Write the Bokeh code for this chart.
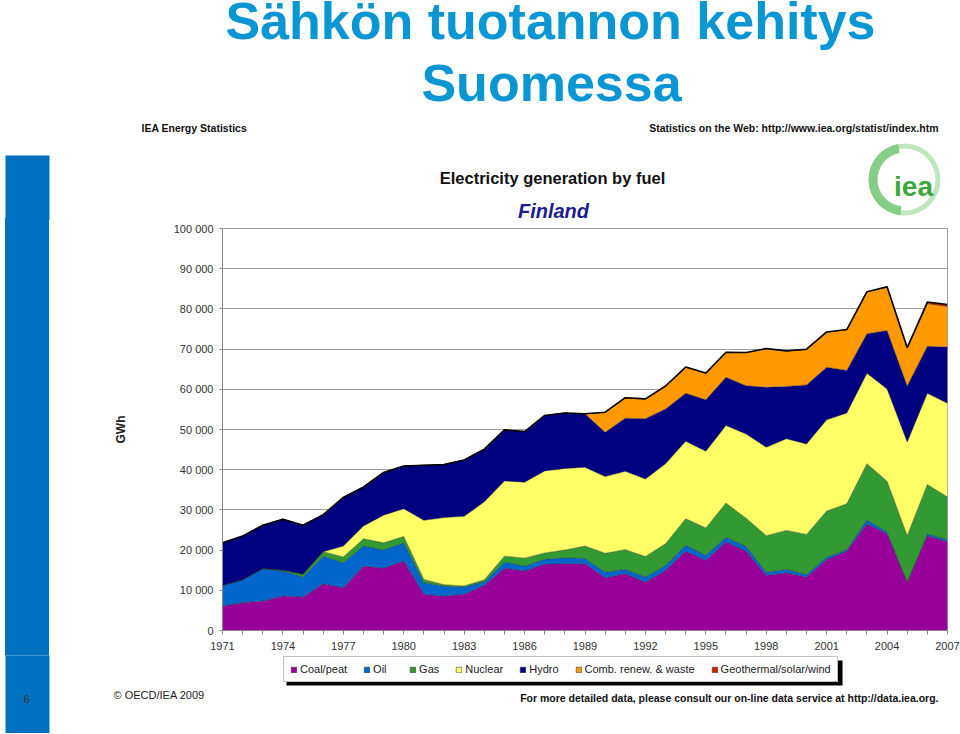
from bokeh.plotting import figure
from bokeh.layouts import column, row
from bokeh.models import (ColumnDataSource, Legend, LegendItem, Label,
                          FixedTicker, Range1d, Spacer)
from bokeh.transform import stack
from bokeh.embed import file_html
from bokeh.resources import INLINE

# ---------------- data (GWh) ----------------
years = list(range(1971, 2008))
coal_peat = [6100, 6900, 7300, 8600, 8300, 11600, 10600, 16000, 15500, 17300,
             9000, 8500, 9000, 11200, 15500, 14800, 16500, 16600, 16600, 13100,
             14100, 12000, 14900, 19700, 17400, 22000, 19700, 13700, 14300, 13300,
             17600, 19700, 26500, 24000, 11900, 23600, 22000]
oil = [5100, 5700, 8100, 6200, 5000, 6900, 6200, 5000, 4500, 4500,
       2900, 2500, 1800, 900, 1500, 1200, 1200, 1500, 1300, 1400,
       1100, 1300, 1300, 1500, 1300, 1200, 1200, 800, 900, 600,
       600, 400, 1000, 500, 100, 400, 600]
gas = [0, 0, 0, 200, 700, 1100, 1500, 1800, 1800, 1600,
       800, 400, 300, 500, 1500, 2000, 1600, 1900, 3100, 4700,
       4900, 5100, 5400, 6600, 6800, 8500, 7000, 9100, 9700, 10000,
       11500, 11400, 14000, 12600, 11600, 12300, 10600]
nuclear = [0, 0, 0, 0, 0, 0, 2700, 3200, 6900, 6900,
           14700, 16700, 17300, 19400, 18700, 18900, 20400, 20300, 19600, 19100,
           19500, 19300, 19900, 19300, 19100, 19300, 21000, 22000, 22800, 22500,
           22700, 22600, 22500, 23000, 23300, 22700, 23300]
hydro = [10600, 10900, 10800, 12700, 12200, 9200, 12100, 9700, 10600, 10600,
         13700, 13200, 14000, 13100, 12700, 12600, 13800, 13800, 13300, 11000,
         13200, 15000, 13600, 11900, 12800, 12000, 12000, 14900, 13000, 14700,
         13100, 10600, 9800, 14500, 13900, 11700, 14000]
comb_renew_waste = [0, 0, 0, 0, 0, 0, 0, 0, 0, 0,
                    0, 0, 0, 0, 0, 0, 0, 0, 0, 5000,
                    5100, 4900, 5700, 6500, 6600, 6200, 8200, 9600, 8800, 8800,
                    8700, 10100, 10400, 10800, 9400, 10600, 10100]
geo_solar_wind = [0, 0, 0, 0, 0, 0, 0, 0, 0, 0,
                  0, 0, 0, 0, 0, 0, 0, 0, 0, 0,
                  10, 10, 20, 30, 30, 30, 40, 50, 60, 80,
                  70, 60, 90, 120, 170, 400, 500]

fuel_keys = ["coal", "oil", "gas", "nuclear", "hydro", "comb", "geo"]
fuel_names = ["Coal/peat", "Oil", "Gas", "Nuclear", "Hydro",
              "Comb. renew. & waste", "Geothermal/solar/wind"]
fuel_colors = ["#990099", "#0066CC", "#339933", "#FFFF66", "#000080", "#FF9900", "#CC2200"]

y_ticks = [0, 10000, 20000, 30000, 40000, 50000, 60000, 70000, 80000, 90000, 100000]
y_tick_labels = ["0", "10 000", "20 000", "30 000", "40 000", "50 000",
                 "60 000", "70 000", "80 000", "90 000", "100 000"]
x_label_years = [1971, 1974, 1977, 1980, 1983, 1986, 1989, 1992, 1995, 1998, 2001, 2004, 2007]

# ---------------- page layout constants (pixels) ----------------
PAGE_W = 960
HEAD_H = 220          # header strip  (y 0..220)
MID_H = 435           # chart strip   (y 220..655)
FOOT_H = 78           # footer strip  (y 655..733)
FL, FR, FT, FB = 222, 947, 228, 630   # plot frame edges on the page
BAR_L, BAR_R, BAR_TOP = 5, 49, 155
BAR_COLOR = "#0070C0"
FONT = "Liberation Sans"
MID_Y0 = HEAD_H
FOOT_Y0 = HEAD_H + MID_H
LEG_L, LEG_B = 283, 682          # legend box left / bottom on the page
SHADOW = (286, 842, 660, 685)    # legend drop shadow (l, r, t, b)


def canvas_fig(x0, w, y0, h, bg="white"):
    """A figure whose frame is the whole canvas; data units = page pixels."""
    f = figure(width=w, height=h, x_range=Range1d(x0, x0 + w), y_range=Range1d(y0 + h, y0),
               x_axis_type=None, y_axis_type=None, output_backend="svg",
               toolbar_location=None, title=None, min_border=0)
    f.min_border_left = f.min_border_right = f.min_border_top = f.min_border_bottom = 0
    f.outline_line_color = None
    f.background_fill_color = bg
    f.border_fill_color = bg
    f.grid.visible = False
    return f


def add_text(f, txt, x, y, size, style="normal", color="#000000", align="left",
             baseline="middle"):
    f.add_layout(Label(x=x, y=y, text=txt, text_font=FONT, text_font_size=size,
                       text_font_style=style, text_color=color, text_align=align,
                       text_baseline=baseline))


# ---------------- header ----------------
head = canvas_fig(0, PAGE_W, 0, HEAD_H)
head.quad(left=BAR_L, right=BAR_R, top=BAR_TOP, bottom=HEAD_H + 10,
          fill_color=BAR_COLOR, line_color=None)
add_text(head, "Sähkön tuotannon kehitys", 550, 20, "52px", "bold", "#0A96D2", "center", "alphabetic")
add_text(head, "Suomessa", 551, 82, "52px", "bold", "#0A96D2", "center", "alphabetic")
add_text(head, "IEA Energy Statistics", 141, 127, "10.5px", "bold", "#111111")
add_text(head, "Statistics on the Web: http://www.iea.org/statist/index.htm", 938, 127,
         "10.5px", "bold", "#111111", "right")
add_text(head, "Electricity generation by fuel", 552, 177, "16.5px", "bold", "#111111", "center")
add_text(head, "Finland", 553, 210, "20px", "bold italic", "#1C1C8C", "center")
head.annulus(x=904, y=179, inner_radius=31, outer_radius=36, fill_color="#BFE6BF", line_color=None)
head.annular_wedge(x=904, y=179, inner_radius=27, outer_radius=36, start_angle=1.75,
                   end_angle=4.6, fill_color="#86CD86", line_color=None)
add_text(head, "iea", 913, 186, "28px", "bold", "#3DA63D", "center")

# ---------------- chart strip: spacer | blue bar | chart ----------------
gap = Spacer(width=BAR_L, height=MID_H)
bar = Spacer(width=BAR_R - BAR_L, height=MID_H,
             styles={"background-color": BAR_COLOR,
                     "box-shadow": f"0 -2px 0 {BAR_COLOR}, 0 2px 0 {BAR_COLOR}"})

source = ColumnDataSource(dict(year=years, coal=coal_peat, oil=oil, gas=gas, nuclear=nuclear,
                               hydro=hydro, comb=comb_renew_waste, geo=geo_solar_wind))

p = figure(width=PAGE_W - BAR_R, height=MID_H, x_range=Range1d(1971, 2007),
           y_range=Range1d(0, 100000), output_backend="svg", toolbar_location=None,
           title=None, min_border_left=FL - BAR_R, min_border_right=PAGE_W - FR,
           min_border_top=FT - MID_Y0, min_border_bottom=FOOT_Y0 - FB)
p.background_fill_color = "white"
p.border_fill_color = "white"
p.outline_line_color = "#A0A0A0"

areas = p.varea_stack(stackers=fuel_keys, x="year", color=fuel_colors, source=source)
for i in range(len(fuel_keys) - 1):
    p.line(x="year", y=stack(*fuel_keys[:i + 1]), source=source,
           line_color="#222222", line_width=0.6, line_alpha=0.7)
p.line(x="year", y=stack(*fuel_keys), source=source, line_color="black", line_width=1.6)

p.xaxis.ticker = FixedTicker(ticks=years)
p.xaxis.major_label_overrides = {yr: (str(yr) if yr in x_label_years else "") for yr in years}
p.yaxis.ticker = FixedTicker(ticks=y_ticks)
p.yaxis.major_label_overrides = dict(zip(y_ticks, y_tick_labels))
for ax in (p.xaxis[0], p.yaxis[0]):
    ax.major_label_text_font = FONT
    ax.major_label_text_font_size = "11px"
    ax.major_label_text_color = "#333333"
    ax.axis_line_color = "#888888"
    ax.major_tick_line_color = "#888888"
    ax.minor_tick_line_color = None
    ax.major_tick_in = 0
p.xaxis.major_tick_out = 4
p.xaxis.major_label_standoff = 7
p.yaxis.major_tick_out = 3
p.yaxis.major_label_standoff = 6
p.yaxis.axis_label = "GWh"
p.yaxis.axis_label_text_font = FONT
p.yaxis.axis_label_text_font_style = "bold"
p.yaxis.axis_label_text_font_size = "12px"
p.yaxis.axis_label_text_color = "#222222"
p.yaxis.axis_label_standoff = 43
p.xgrid.visible = False
p.ygrid.grid_line_color = "#A0A0A0"
p.ygrid.grid_line_width = 1

# ---------------- footer: legend, notes ----------------
foot = canvas_fig(0, PAGE_W, FOOT_Y0, FOOT_H)
foot.quad(left=BAR_L, right=BAR_R, top=FOOT_Y0 - 10, bottom=FOOT_Y0 + FOOT_H + 10,
          fill_color=BAR_COLOR, line_color=None)
foot.quad(left=SHADOW[0], right=SHADOW[1], top=SHADOW[2], bottom=SHADOW[3],
          fill_color="black", line_color=None)
# legend keys: same fills as the chart areas, one point placed off-canvas
keys = [foot.quad(left=[-30], right=[-20], top=[FOOT_Y0 + 10], bottom=[FOOT_Y0 + 20],
                  fill_color=c, line_color="#444444", line_width=0.6) for c in fuel_colors]
legend = Legend(items=[LegendItem(label=n, renderers=[r]) for n, r in zip(fuel_names, keys)],
                orientation="horizontal", location=(LEG_L, FOOT_Y0 + FOOT_H - LEG_B),
                label_text_font=FONT, label_text_font_size="11px", label_text_color="#222222",
                glyph_width=7, glyph_height=7, label_standoff=3, spacing=16,
                padding=6, margin=0, label_height=12,
                border_line_color="#888888", border_line_width=1,
                background_fill_color="white", background_fill_alpha=1)
foot.add_layout(legend)
add_text(foot, "6", 26, 698, "11px", "normal", "#333333", "center")
add_text(foot, "© OECD/IEA 2009", 113, 694, "11px", "normal", "#222222")
add_text(foot, "For more detailed data, please consult our on-line data service at http://data.iea.org.",
         938, 697, "10.5px", "bold", "#111111", "right")

layout = column(head, row(gap, bar, p), foot)
open("out.html", "w").write(file_html(layout, INLINE))
